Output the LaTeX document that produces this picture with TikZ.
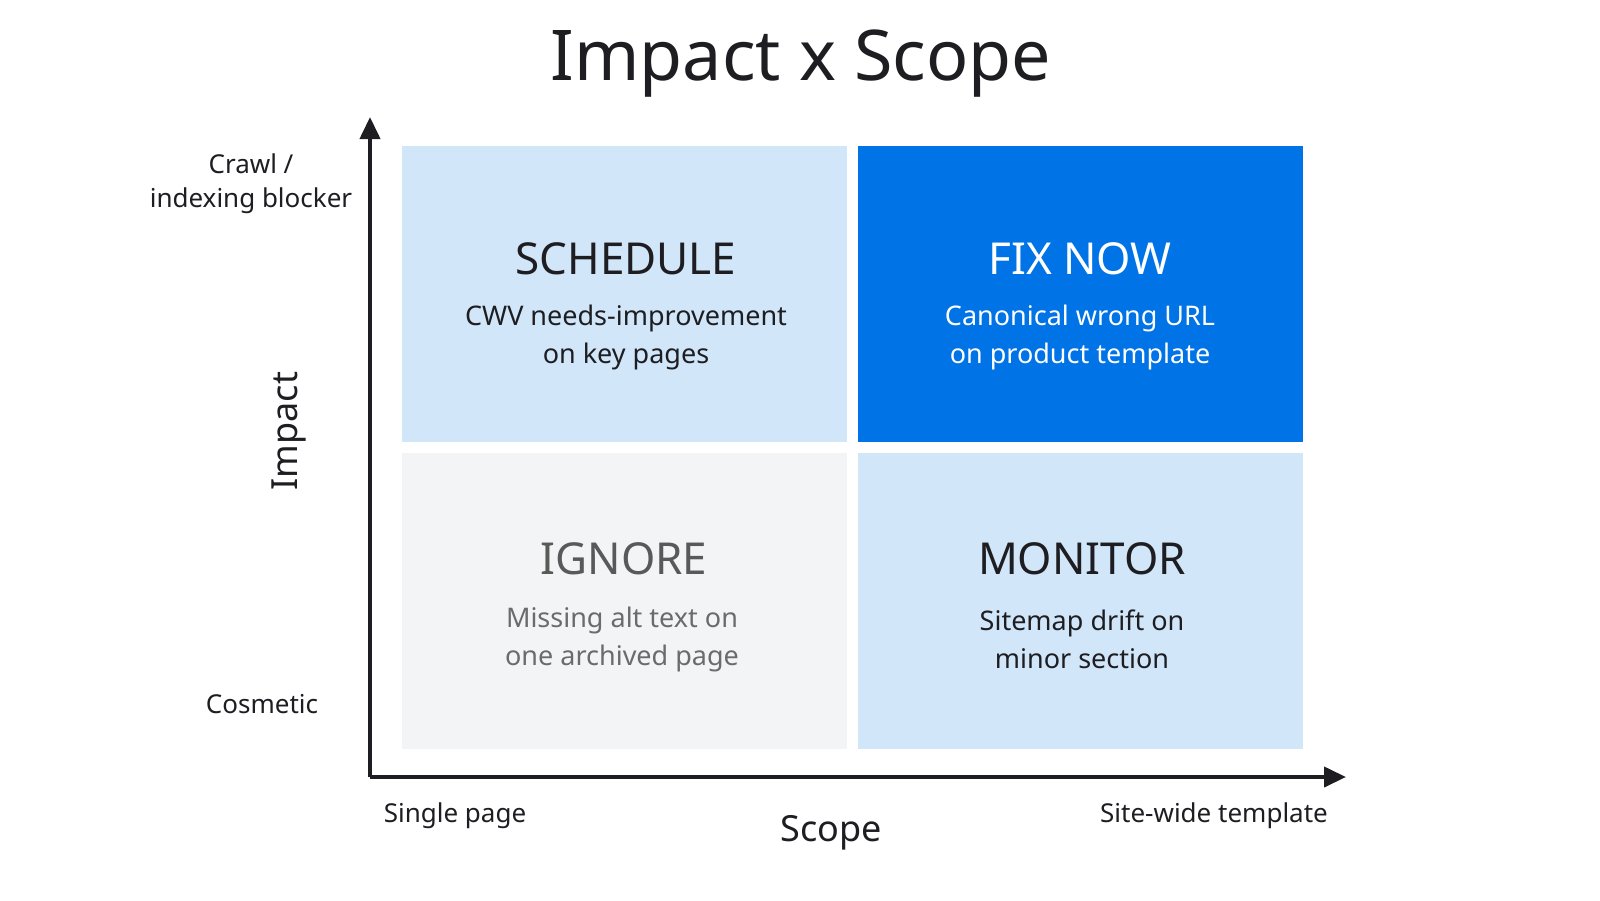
\documentclass[tikz,border=0pt]{standalone}
\usepackage{fontspec}
\setmainfont{Noto Sans}
\usetikzlibrary{arrows.meta}
\definecolor{lb}{HTML}{D1E6F9}
\definecolor{db}{HTML}{0073E6}
\definecolor{gr}{HTML}{F3F4F6}
\definecolor{ink}{HTML}{1E1E22}
\tikzset{
 quad/.style={minimum width=445pt,minimum height=296pt,inner sep=0pt,anchor=north west},
 qtitle/.style={font=\fontsize{44}{50}\selectfont\bfseries},
 qbody/.style={font=\fontsize{27}{38}\selectfont,align=center},
 axlab/.style={font=\fontsize{26}{34}\selectfont,text=ink,align=center},
 axtitle/.style={font=\fontsize{36}{40}\selectfont\bfseries,text=ink},
 axis/.style={line width=4pt,draw=ink,-{Triangle[length=22pt,width=20pt]}}
}
\begin{document}
\begin{tikzpicture}[x=1pt,y=-1pt]
\useasboundingbox[fill=white] (0,0) rectangle (1600,900);
\node[font=\fontsize{70}{80}\selectfont\bfseries,text=ink] (title) at (801,64) {Impact x Scope};
\node[quad,fill=lb] (sch) at (402,146) {};
\node[quad,fill=db] (fix) at (858,146) {};
\node[quad,fill=gr] (ign) at (402,453) {};
\node[quad,fill=lb] (mon) at (858,453) {};
\node[qtitle,text=ink] (scht) at (626,259) {SCHEDULE};
\node[qbody,text=ink] (schb) at (626,337) {CWV needs-improvement\\on key pages};
\node[qtitle,text=white] (fixt) at (1080,259) {FIX NOW};
\node[qbody,text=white] (fixb) at (1080,337) {Canonical wrong URL\\on product template};
\node[qtitle,text=black!65] (ignt) at (624,559) {IGNORE};
\node[qbody,text=black!58] (ignb) at (622,639) {Missing alt text on\\one archived page};
\node[qtitle,text=ink] (mont) at (1082,559) {MONITOR};
\node[qbody,text=ink] (monb) at (1082,639) {Sitemap drift on\\minor section};
\coordinate (o) at (370,777);
\coordinate (ytip) at (370,117);
\coordinate (xtip) at (1346,777);
\draw[axis] (o) -- (ytip);
\draw[axis] (o) -- (xtip);
\node[axlab] (crawl) at (251,184) {Crawl /\\indexing blocker};
\node[axlab] (cos) at (262,704) {Cosmetic};
\node[axtitle,rotate=90] (imp) at (289,431) {Impact};
\node[axlab] (sp) at (455,816) {Single page};
\node[axtitle] (scope) at (831,833) {Scope};
\node[axlab] (sw) at (1214,816) {Site-wide template};
\end{tikzpicture}
\end{document}
